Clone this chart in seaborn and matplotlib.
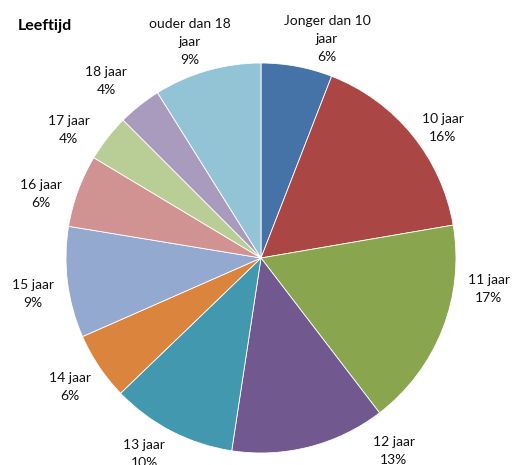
import matplotlib
import seaborn as sns
import matplotlib.pyplot as plt

categories = ['Jonger dan 10\njaar', '10 jaar', '11 jaar', '12 jaar', '13 jaar', '14 jaar',
              '15 jaar', '16 jaar', '17 jaar', '18 jaar', 'ouder dan 18\njaar']
# shares (labels show them rounded)
percentages = [5.9, 16.4, 17.3, 12.8, 10.4, 5.6, 9.2, 6.0, 3.9, 3.6, 8.9]
colors = ['#4572A7', '#AA4643', '#89A54E', '#71588F', '#4198AF', '#DB843D',
          '#93A9CF', '#D19392', '#B9CD96', '#A99BBD', '#93C4D5']

# label centres (pie radius = 1), like Excel's "best fit" placement
label_xy = [(0.338, 1.123), (0.933, 0.667), (1.169, -0.159), (0.682, -0.990),
            (-0.600, -1.005), (-0.979, -0.664), (-1.169, -0.185), (-1.128, 0.326),
            (-0.985, 0.654), (-0.795, 0.910), (-0.364, 1.108)]


def plot_pie():
    fig = plt.figure(figsize=(5.16, 4.65), dpi=100)
    ax = fig.add_axes([0.1279, 0.0258, 0.7558, 0.8387])
    labels = [f'{c}\n{round(p)}%' for c, p in zip(categories, percentages)]
    wedges, texts = ax.pie(percentages, labels=labels, colors=sns.color_palette(colors),
                           startangle=90, counterclock=False, labeldistance=1.2,
                           wedgeprops={'edgecolor': 'white', 'linewidth': 0.6},
                           textprops={'fontsize': 10, 'color': '#111111', 'linespacing': 1.6})
    for t, xy in zip(texts, label_xy):
        t.set_position(xy)
        t.set_ha('center')
        t.set_va('center')
    ax.set_xlim(-1, 1)
    ax.set_ylim(-1, 1)
    fig.text(0.035, 0.945, 'Leeftijd', fontsize=11.5, fontweight='bold', color='black',
             ha='left', va='center')
    fig.savefig('out.png', dpi=100)


if __name__ == '__main__':
    sns.set_theme(style='white')
    matplotlib.rcParams['font.family'] = ['Lato', 'DejaVu Sans']
    plot_pie()
